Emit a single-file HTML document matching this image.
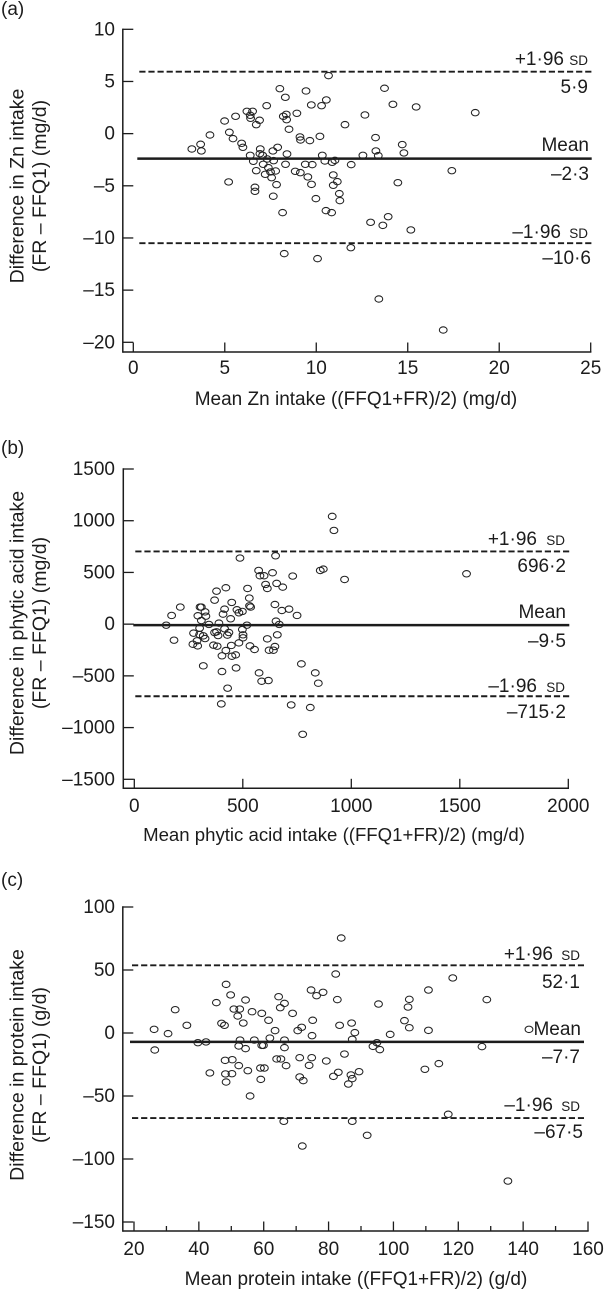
<!DOCTYPE html>
<html>
<head>
<meta charset="utf-8">
<title>Bland-Altman plots</title>
<style>
html,body{margin:0;padding:0;background:#fff;}
svg{display:block;}
text{font-family:"Liberation Sans",sans-serif;fill:#1c1c1c;font-size:19px;}
.sd{font-size:13.5px;}
.r{text-anchor:end;}
.c{text-anchor:middle;}
text.yt{font-size:19.5px;}
text.xb{font-size:18.6px;}
</style>
</head>
<body>
<svg id="chart" width="604" height="1290" viewBox="0 0 604 1290" xmlns="http://www.w3.org/2000/svg">
  <rect width="604" height="1290" fill="#fff"/>

  <g id="panel-a">
    <text x="1" y="15">(a)</text>
    <text class="c yt" transform="translate(23.5,186) rotate(-90)">Difference in Zn intake</text>
    <text class="c yt" transform="translate(46,186) rotate(-90)">(FR – FFQ1) (mg/d)</text>
    <text class="c" x="356" y="405">Mean Zn intake ((FFQ1+FR)/2) (mg/d)</text>
    <text class="r" x="588" y="65">+1·96 <tspan class="sd">SD</tspan></text>
    <text class="r" x="588" y="93">5·9</text>
    <text class="r" x="589" y="151">Mean</text>
    <text class="r" x="589" y="180">–2·3</text>
    <text class="r" x="588" y="238">–1·96 <tspan class="sd" dx="3">SD</tspan></text>
    <text class="r" x="591" y="264">–10·6</text>
  </g>

  <g id="panel-b">
    <text x="1" y="454">(b)</text>
    <text class="c yt" transform="translate(23.5,623) rotate(-90)">Difference in phytic acid intake</text>
    <text class="c yt" transform="translate(46,623) rotate(-90)">(FR – FFQ1) (mg/d)</text>
    <text class="c xb" x="334" y="841">Mean phytic acid intake ((FFQ1+FR)/2) (mg/d)</text>
    <text class="r" x="565" y="545">+1·96 <tspan class="sd" dx="4">SD</tspan></text>
    <text class="r" x="566" y="572">696·2</text>
    <text class="r" x="566" y="618">Mean</text>
    <text class="r" x="566" y="647">–9·5</text>
    <text class="r" x="565" y="692">–1·96 <tspan class="sd" dx="4">SD</tspan></text>
    <text class="r" x="566" y="718">–715·2</text>
  </g>

  <g id="panel-c">
    <text x="1" y="886">(c)</text>
    <text class="c yt" transform="translate(23.5,1065) rotate(-90)">Difference in protein intake</text>
    <text class="c yt" transform="translate(46,1065) rotate(-90)">(FR – FFQ1) (g/d)</text>
    <text class="c" x="356" y="1285">Mean protein intake ((FFQ1+FR)/2) (g/d)</text>
    <text class="r" x="580" y="960">+1·96 <tspan class="sd" dx="3">SD</tspan></text>
    <text class="r" x="580" y="988">52·1</text>
    <text class="r" x="581" y="1035">Mean</text>
    <text class="r" x="580" y="1063">–7·7</text>
    <text class="r" x="580" y="1111">–1·96 <tspan class="sd" dx="3">SD</tspan></text>
    <text class="r" x="583" y="1138">–67·5</text>
  </g>
</svg>

<script>
// ---- Panel (a) Zn ----
const zincXTicks = [0, 5, 10, 15, 20, 25];
const zincYTicks = [10, 5, 0, -5, -10, -15, -20];
const zincLimits = [5.94, -2.4, -10.5];
const zincMeanIntake = [10.67,8.01,9.44,13.73,8.31,10.55,10.29,9.73,7.29,14.19,15.46,18.69,6.21,6.52,6.39,5.59,6.41,4.99,6.9,6.72,8.2,8.36,8.38,8.94,12.66,11.57,8.51,5.25,4.19,5.45,9.11,9.14,9.65,10.2,13.24,3.68,3.2,3.72,5.92,5.99,6.94,7.89,7.63,14.7,14.79,13.26,13.39,12.55,8.4,10.33,11.02,10.47,10.87,6.39,6.92,7.07,7.32,6.56,7.67,7.1,8.32,9.4,9.78,11.91,7.38,6.72,7.78,7.5,7.21,7.56,8.85,9.13,9.54,10.93,11.15,10.93,17.41,5.21,14.46,7.83,9.74,6.65,6.65,7.65,9.98,11.26,11.29,8.16,10.53,10.84,12.97,13.93,13.64,15.17,11.89,8.25,10.07,13.42,16.94];
const zincDifference = [5.56,4.31,4.09,4.35,3.48,3.23,2.68,2.75,2.68,2.81,2.56,2.01,2.14,2.14,1.76,1.66,1.47,1.21,1.28,0.86,1.66,1.85,1.34,1.95,1.79,0.86,0.42,0.13,-0.13,-0.48,-0.32,-0.61,-0.67,-0.26,-0.38,-1.02,-1.47,-1.66,-0.93,-1.31,-1.47,-1.31,-1.66,-1.05,-1.85,-1.66,-2.11,-2.08,-1.95,-2.08,-2.56,-2.62,-2.75,-2.08,-1.92,-2.08,-2.43,-2.65,-2.59,-2.94,-2.94,-2.94,-2.97,-2.97,-3.26,-3.55,-3.58,-3.67,-3.9,-4.22,-3.61,-3.74,-4.15,-3.96,-4.6,-4.95,-3.55,-4.63,-4.7,-4.89,-4.86,-5.14,-5.53,-6,-6.23,-5.75,-6.42,-7.57,-7.38,-7.57,-8.5,-7.96,-8.79,-9.23,-10.93,-11.5,-11.98,-15.85,-18.82];

// ---- Panel (b) phytic acid ----
const phyticXTicks = [0, 500, 1000, 1500, 2000];
const phyticYTicks = [1500, 1000, 500, 0, -500, -1000, -1500];
const phyticLimits = [703, -9.5, -697];
const phyticMeanIntake = [912,920,487,651,573,637,579,598,730,857,871,969,1531,605,613,656,684,379,422,522,370,530,449,648,303,309,212,172,531,536,416,326,473,482,498,409,680,713,750,293,330,444,309,653,668,147,344,390,519,301,416,498,273,301,370,379,386,436,429,318,501,501,659,613,183,326,289,270,292,365,382,447,482,533,554,422,621,641,648,404,450,467,318,770,834,848,404,469,575,587,618,430,401,723,811,776];
const phyticDifference = [1042,906,639,661,519,497,468,468,465,519,532,432,487,384,345,394,358,319,352,345,232,252,210,190,165,165,165,84,177,165,145,119,139,110,123,97,132,145,84,81,77,52,35,29,-3,-10,-3,10,-10,-39,-45,-52,-87,-100,-81,-74,-110,-81,-106,-113,-103,-132,-103,-142,-155,-139,-161,-194,-210,-203,-213,-206,-181,-210,-245,-255,-252,-252,-216,-306,-310,-297,-403,-384,-471,-571,-458,-423,-471,-552,-545,-619,-771,-781,-806,-1065];

// ---- Panel (c) protein ----
const proteinXTicks = [20, 40, 60, 80, 100, 120, 140, 160];
const proteinXMinorTicks = [30, 50, 70, 90, 110, 130, 150];
const proteinYTicks = [100, 50, 0, -50, -100, -150];
const proteinLimits = [53.7, -7, -67.5];
const proteinMeanIntake = [83.9,82.2,118.3,48.4,110.8,74.6,78.3,76.3,49.8,64.6,54.4,45.4,82.7,66.4,65.1,104.9,95.4,104.5,128.8,32.7,50.8,52.6,56.4,59.4,68.9,52,61.5,75.1,53.7,47,47.9,36.3,87.1,103.4,83.4,104.9,110.8,141.8,26.2,30.5,63.5,71.7,70.5,74.9,88.1,99,87.3,61.9,52.7,57.1,66.4,39.7,42.2,94.9,52.3,54.4,59.4,59.9,66.4,93.7,95.8,127.3,26.4,64,65.3,71.1,74.8,84.9,48.1,50.3,52.3,66.9,74,79.3,55.1,59,60.2,43.4,48.2,50.2,48.4,59.1,55.8,71.1,72.2,81.5,83,86.9,87.3,89.4,86.1,109.7,114,116.9,66.2,87.3,91.9,71.9,135.3];
const proteinDifference = [75.4,46.8,43.7,38.6,34.1,34.1,32.3,29.6,30.2,28.8,26.2,24.1,26.5,23.5,20.1,26.7,23,20.6,26.5,18.5,19,19,16.9,15.6,15.6,13.5,10.1,10.1,7.9,7.7,6.1,6.1,7.9,9.8,6.1,4.2,2.1,2.9,2.9,-0.5,1.9,4.5,1.9,-2.1,0.3,-1.1,-5,-4,-5.6,-5.6,-5.6,-7.7,-7.1,-7.7,-10.3,-12.4,-9.8,-9.8,-11.6,-10.6,-13.2,-10.8,-13.5,-20.6,-20.6,-19.6,-19.6,-16.7,-21.7,-21.2,-25.9,-25.9,-25.7,-22.2,-29.9,-27.8,-27.8,-31.7,-32.5,-32.3,-38.9,-36.8,-50,-34.9,-37.8,-34.4,-31.2,-33.3,-36.2,-30.7,-40.5,-28.8,-24.3,-64.5,-70.1,-70.1,-81.2,-89.7,-117.5];

const NS = 'http://www.w3.org/2000/svg';
const INK = '#1c1c1c';

function makeScale(d0, d1, p0, p1) {
  return function (v) { return p0 + (v - d0) * (p1 - p0) / (d1 - d0); };
}
function fmt(v) { return v < 0 ? '–' + Math.abs(v) : String(v); }

function addLine(g, x1, y1, x2, y2, w, dash) {
  const el = document.createElementNS(NS, 'line');
  el.setAttribute('x1', x1);
  el.setAttribute('y1', y1);
  el.setAttribute('x2', x2);
  el.setAttribute('y2', y2);
  el.setAttribute('stroke', INK);
  el.setAttribute('stroke-width', w);
  if (dash) el.setAttribute('stroke-dasharray', dash);
  g.appendChild(el);
  return el;
}
function addText(g, x, y, str, cls) {
  const el = document.createElementNS(NS, 'text');
  el.setAttribute('x', x);
  el.setAttribute('y', y);
  el.setAttribute('class', cls);
  el.textContent = str;
  g.appendChild(el);
  return el;
}

function drawPanel(id, o) {
  const g = document.getElementById(id);
  const X = makeScale(o.xDomain[0], o.xDomain[1], o.xRange[0], o.xRange[1]);
  const Y = makeScale(o.yDomain[0], o.yDomain[1], o.yRange[0], o.yRange[1]);
  const top = Y(o.yTicks[0]);

  const yAxis = addLine(g, o.axisX, top - 0.7, o.axisX, o.axisY + 0.7, 1.5);
  
  
  const xAxis = addLine(g, o.axisX, o.axisY, X(o.xTicks[o.xTicks.length - 1]) + 0.7, o.axisY, 1.5);
  
  

  o.yTicks.forEach(function (t) {
    const tick = addLine(g, o.axisX, Y(t), o.axisX + 10.5, Y(t), 1.3);
    
    
    const lab = addText(g, 115, Y(t) + 6, fmt(t), 'r');
    
    
  });
  o.xTicks.forEach(function (t) {
    const tick = addLine(g, X(t), o.axisY, X(t), o.axisY - 9.5, 1.3);
    
    
    const lab = addText(g, X(t), o.xLabelY, fmt(t), 'c');
    
    
  });
  (o.xMinor || []).forEach(function (t) {
    const tick = addLine(g, X(t), o.axisY, X(t), o.axisY - 5, 1.3);
    
    
  });

  const upper = addLine(g, o.lineX[0] + 2, Y(o.limits[0]), o.lineX[1], Y(o.limits[0]), 1.9, '6.2 2.9');
  
  
  const mean = addLine(g, o.lineX[0], Y(o.limits[1]), o.lineX[1], Y(o.limits[1]), 2.5);
  
  
  const lower = addLine(g, o.lineX[0] + 2, Y(o.limits[2]), o.lineX[1], Y(o.limits[2]), 1.9, '6.2 2.9');
  
  

  o.xs.forEach(function (v, i) {
    const p = document.createElementNS(NS, 'ellipse');
    p.setAttribute('cx', X(v));
    p.setAttribute('cy', Y(o.ys[i]));
    p.setAttribute('rx', 3.9);
    p.setAttribute('ry', 3.2);
    p.setAttribute('fill', 'none');
    p.setAttribute('stroke', '#222');
    p.setAttribute('stroke-width', 1.05);
    
    
    g.appendChild(p);
  });
}

drawPanel('panel-a', {
  xDomain: [0, 25], xRange: [133.3, 590.7],
  yDomain: [10, -20], yRange: [29.3, 342.3],
  axisX: 122.8, axisY: 352, xLabelY: 374,
  lineX: [137.3, 591.7],
  xTicks: zincXTicks, yTicks: zincYTicks, limits: zincLimits,
  xs: zincMeanIntake, ys: zincDifference
});
drawPanel('panel-b', {
  xDomain: [0, 2000], xRange: [134.3, 568.3],
  yDomain: [1500, -1500], yRange: [469, 779.3],
  axisX: 123.3, axisY: 788.3, xLabelY: 812,
  lineX: [133.3, 569.3],
  xTicks: phyticXTicks, yTicks: phyticYTicks, limits: phyticLimits,
  xs: phyticMeanIntake, ys: phyticDifference
});
drawPanel('panel-c', {
  xDomain: [20, 160], xRange: [134, 588],
  yDomain: [100, -150], yRange: [907, 1222],
  axisX: 122.8, axisY: 1231, xLabelY: 1255,
  lineX: [130, 584],
  xTicks: proteinXTicks, xMinor: proteinXMinorTicks, yTicks: proteinYTicks, limits: proteinLimits,
  xs: proteinMeanIntake, ys: proteinDifference
});
</script>
</body>
</html>
